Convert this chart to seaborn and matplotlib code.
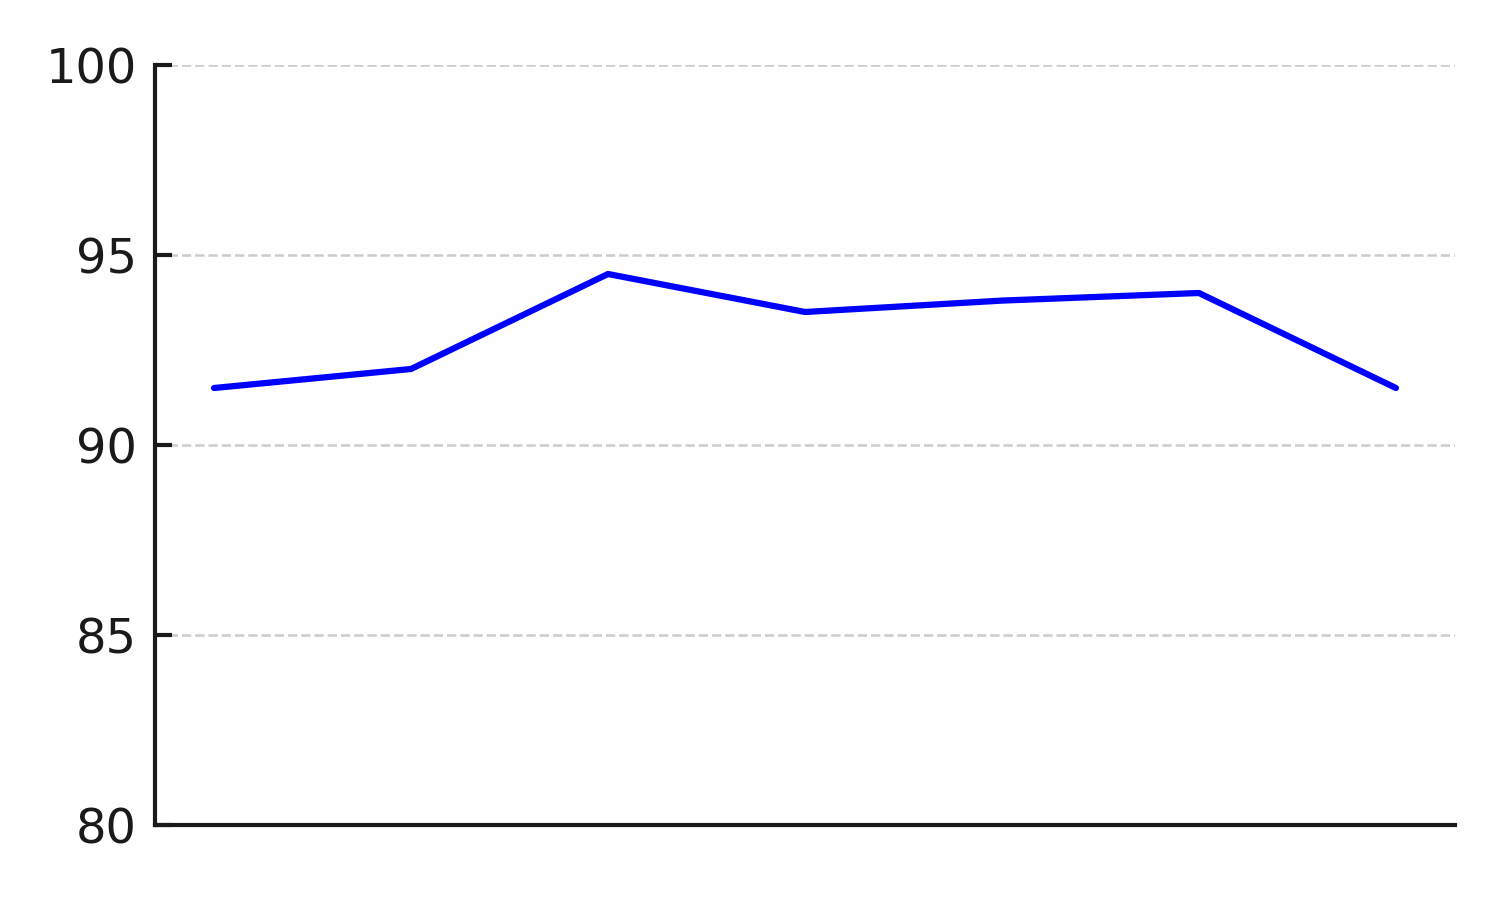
import matplotlib
matplotlib.use("Agg")
import matplotlib.pyplot as plt
import seaborn as sns
import pandas as pd

categories = ["1", "2", "3", "4", "5", "6", "7"]
values = [91.5, 92.0, 94.5, 93.5, 93.8, 94.0, 91.5]
y_ticks = [80, 85, 90, 95, 100]

sns.set_style("white")
plt.rcParams['font.family'] = ['DejaVu Sans']

df = pd.DataFrame({"x": range(len(categories)), "y": values})

fig = plt.figure(figsize=(5, 3), dpi=300)
ax = fig.add_axes([0.1033, 0.0833, 0.8667, 0.8445])
sns.lineplot(data=df, x="x", y="y", color="#0000ff", linewidth=1.5, ax=ax)

ax.set_ylim(80, 100)
ax.set_yticks(y_ticks)
ax.set_xticks([])
ax.set_xlabel("")
ax.set_ylabel("")
ax.yaxis.grid(True, linestyle="--", color="#cccccc", linewidth=0.6)
ax.xaxis.grid(False)
for s in ["top", "right"]:
    ax.spines[s].set_visible(False)
for s in ["left", "bottom"]:
    ax.spines[s].set_color("#1a1a1a")
    ax.spines[s].set_linewidth(1.0)
ax.tick_params(axis="y", which="both", left=True, direction="in", length=4, width=1.0,
               color="#1a1a1a", labelsize=11.5, labelcolor="#1a1a1a", pad=4.3)

fig.savefig("out.png", dpi=300)
